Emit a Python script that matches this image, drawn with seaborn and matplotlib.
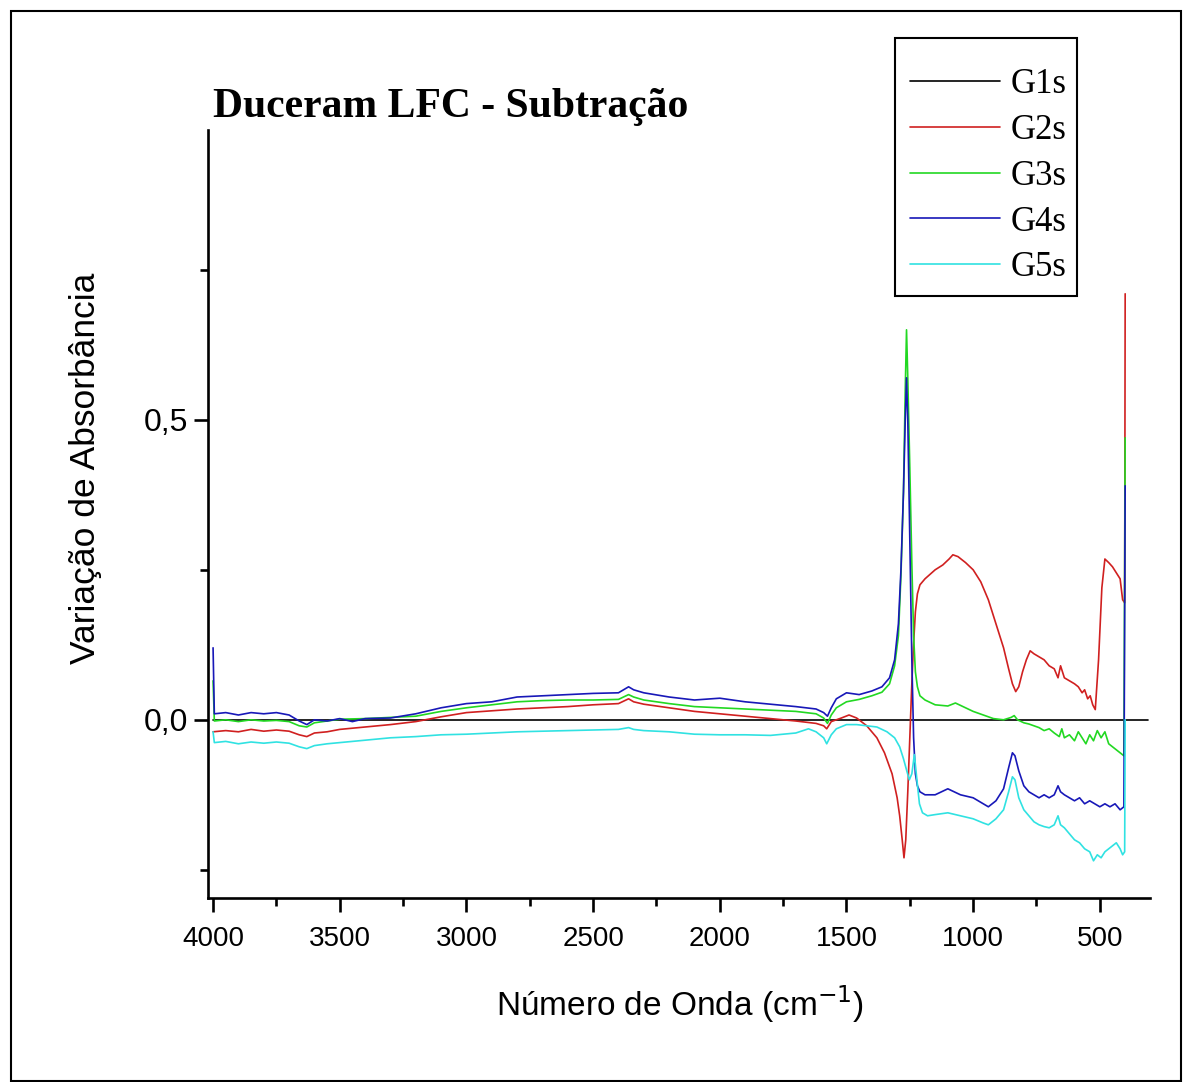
import numpy as np
import pandas as pd
import matplotlib
matplotlib.use("Agg")
import matplotlib.pyplot as plt
import matplotlib.ticker as mticker
from matplotlib.patches import Rectangle
import seaborn as sns

# wavenumbers (cm-1) and absorbance change
g1_w = [4000, 310]
g1_a = [0.0, 0.0]

g2_w = [4000, 3950, 3900, 3850, 3800, 3750, 3700, 3660, 3630, 3600, 3550, 3500, 3400, 3300,
        3200, 3100, 3000, 2900, 2800, 2700, 2600, 2500, 2400, 2360, 2340, 2300, 2200, 2100,
        2000, 1900, 1800, 1700, 1620, 1590, 1578, 1560, 1520, 1490, 1460, 1420, 1380, 1350,
        1320, 1300, 1290, 1280, 1273, 1266, 1258, 1250, 1243, 1236, 1228, 1220, 1210, 1190,
        1150, 1120, 1095, 1080, 1060, 1030, 1000, 970, 940, 910, 880, 860, 845, 832, 820,
        805, 790, 775, 760, 740, 720, 700, 680, 665, 655, 640, 620, 600, 585, 570, 560,
        548, 538, 528, 518, 505, 492, 480, 465, 450, 435, 420, 410, 402, 400]
g2_a = [-0.02, -0.018, -0.02, -0.016, -0.019, -0.017, -0.019, -0.025, -0.028, -0.022, -0.02,
        -0.016, -0.012, -0.008, -0.003, 0.005, 0.012, 0.015, 0.018, 0.02, 0.022, 0.025, 0.027,
        0.035, 0.03, 0.026, 0.02, 0.014, 0.01, 0.006, 0.002, -0.002, -0.006, -0.01, -0.015,
        -0.003, 0.003, 0.008, 0.003, -0.01, -0.03, -0.055, -0.09, -0.13, -0.16, -0.2, -0.23,
        -0.2, -0.12, -0.03, 0.05, 0.12, 0.18, 0.21, 0.225, 0.235, 0.25, 0.258, 0.268, 0.275,
        0.272, 0.262, 0.25, 0.23, 0.2, 0.16, 0.12, 0.085, 0.06, 0.047, 0.055, 0.08, 0.1,
        0.115, 0.11, 0.105, 0.1, 0.09, 0.085, 0.07, 0.09, 0.07, 0.065, 0.06, 0.055, 0.045,
        0.05, 0.035, 0.04, 0.025, 0.017, 0.1, 0.22, 0.268, 0.262, 0.255, 0.245, 0.235, 0.2,
        0.195, 0.71]

g3_w = [4000, 3995, 3950, 3900, 3850, 3800, 3750, 3700, 3660, 3630, 3600, 3550, 3500, 3400,
        3300, 3200, 3100, 3000, 2900, 2800, 2700, 2600, 2500, 2400, 2360, 2340, 2300, 2200,
        2100, 2000, 1900, 1800, 1700, 1620, 1590, 1575, 1560, 1540, 1500, 1450, 1400, 1360,
        1330, 1310, 1295, 1285, 1275, 1268, 1263, 1258, 1250, 1242, 1235, 1228, 1220, 1210,
        1190, 1150, 1100, 1070, 1050, 1000, 960, 920, 880, 850, 838, 825, 800, 780, 760, 740,
        720, 700, 680, 660, 650, 640, 620, 600, 585, 570, 555, 540, 525, 510, 495, 480, 465,
        450, 435, 420, 405, 400]
g3_a = [0.065, -0.002, 0.0, -0.003, 0.0, -0.002, -0.001, -0.003, -0.01, -0.012, -0.005,
        -0.002, 0.001, 0.002, 0.004, 0.006, 0.014, 0.02, 0.025, 0.03, 0.032, 0.033, 0.033,
        0.034, 0.042, 0.038, 0.033, 0.027, 0.022, 0.02, 0.018, 0.016, 0.014, 0.01, 0.003,
        -0.006, 0.008, 0.02, 0.03, 0.034, 0.04, 0.046, 0.06, 0.09, 0.14, 0.24, 0.38, 0.55,
        0.65, 0.57, 0.42, 0.26, 0.14, 0.08, 0.055, 0.04, 0.033, 0.025, 0.023, 0.028, 0.024,
        0.014, 0.008, 0.002, 0.0, 0.004, 0.007, 0.0, -0.005, -0.007, -0.01, -0.013, -0.018,
        -0.015, -0.022, -0.028, -0.015, -0.03, -0.025, -0.035, -0.02, -0.03, -0.04, -0.025,
        -0.035, -0.018, -0.03, -0.02, -0.04, -0.045, -0.05, -0.055, -0.06, 0.47]

g4_w = [4000, 3995, 3950, 3900, 3850, 3800, 3750, 3700, 3660, 3630, 3600, 3550, 3500, 3450,
        3400, 3300, 3200, 3100, 3000, 2900, 2800, 2700, 2600, 2500, 2400, 2360, 2340, 2300,
        2200, 2100, 2000, 1900, 1800, 1700, 1620, 1590, 1575, 1560, 1540, 1500, 1450, 1400,
        1360, 1330, 1310, 1295, 1285, 1275, 1268, 1263, 1258, 1250, 1242, 1235, 1228, 1220,
        1210, 1190, 1150, 1100, 1050, 1000, 960, 940, 910, 880, 860, 845, 835, 820, 800, 780,
        760, 740, 720, 700, 680, 665, 655, 640, 620, 600, 580, 560, 540, 520, 500, 480, 460,
        440, 420, 405, 400]
g4_a = [0.12, 0.01, 0.012, 0.008, 0.012, 0.01, 0.012, 0.008, -0.002, -0.008, 0.0, -0.002,
        0.002, -0.003, 0.002, 0.003, 0.01, 0.02, 0.027, 0.03, 0.038, 0.04, 0.042, 0.044, 0.045,
        0.055, 0.05, 0.045, 0.038, 0.033, 0.036, 0.03, 0.026, 0.022, 0.018, 0.012, 0.006, 0.02,
        0.035, 0.045, 0.042, 0.048, 0.055, 0.07, 0.1, 0.16, 0.25, 0.38, 0.5, 0.57, 0.5, 0.3,
        0.1, -0.03, -0.09, -0.11, -0.12, -0.125, -0.125, -0.115, -0.125, -0.13, -0.14, -0.145,
        -0.135, -0.115, -0.08, -0.055, -0.06, -0.085, -0.11, -0.12, -0.125, -0.13, -0.125,
        -0.13, -0.125, -0.11, -0.12, -0.125, -0.13, -0.135, -0.13, -0.14, -0.135, -0.14,
        -0.145, -0.14, -0.145, -0.14, -0.15, -0.145, 0.39]

g5_w = [4000, 3995, 3950, 3900, 3850, 3800, 3750, 3700, 3660, 3630, 3600, 3550, 3500, 3400,
        3300, 3200, 3100, 3000, 2900, 2800, 2700, 2600, 2500, 2400, 2360, 2340, 2300, 2200,
        2100, 2000, 1900, 1800, 1700, 1650, 1620, 1590, 1578, 1560, 1540, 1500, 1460, 1420,
        1380, 1340, 1310, 1290, 1275, 1262, 1252, 1242, 1232, 1222, 1212, 1200, 1180, 1150,
        1100, 1050, 1000, 960, 940, 910, 880, 860, 845, 835, 820, 800, 780, 760, 740, 720,
        700, 680, 665, 655, 640, 620, 600, 580, 560, 540, 525, 510, 495, 480, 465, 450, 435,
        420, 410, 402, 400]
g5_a = [-0.02, -0.038, -0.036, -0.04, -0.037, -0.039, -0.037, -0.039, -0.045, -0.048, -0.043,
        -0.04, -0.038, -0.034, -0.03, -0.028, -0.025, -0.024, -0.022, -0.02, -0.019, -0.018,
        -0.017, -0.016, -0.013, -0.016, -0.018, -0.02, -0.024, -0.025, -0.025, -0.026, -0.022,
        -0.015, -0.02, -0.03, -0.04, -0.025, -0.015, -0.008, -0.008, -0.01, -0.012, -0.02,
        -0.03, -0.045, -0.065, -0.085, -0.1, -0.09, -0.058, -0.1, -0.14, -0.155, -0.16,
        -0.158, -0.155, -0.16, -0.165, -0.172, -0.175, -0.165, -0.15, -0.12, -0.095, -0.1,
        -0.13, -0.15, -0.16, -0.17, -0.175, -0.178, -0.18, -0.175, -0.16, -0.175, -0.18,
        -0.19, -0.2, -0.205, -0.215, -0.22, -0.235, -0.225, -0.23, -0.22, -0.215, -0.21,
        -0.205, -0.215, -0.225, -0.22, 0.0]

series = ["G1s", "G2s", "G3s", "G4s", "G5s"]
colors = ["#000000", "#d02020", "#22d822", "#1818b8", "#30e2e2"]

frames = []
for name, w, a in zip(series, [g1_w, g2_w, g3_w, g4_w, g5_w], [g1_a, g2_a, g3_a, g4_a, g5_a]):
    frames.append(pd.DataFrame({"w": w, "a": a, "serie": name}))
df = pd.concat(frames, ignore_index=True)

sns.set_theme(style="ticks")
plt.rcParams["font.family"] = ["Liberation Sans", "DejaVu Sans"]
plt.rcParams["text.color"] = "black"
plt.rcParams["axes.labelcolor"] = "black"
plt.rcParams["xtick.color"] = "black"
plt.rcParams["ytick.color"] = "black"

fig = plt.figure(figsize=(11.92, 10.82), dpi=100)
ax = fig.add_axes([208 / 1192, 1 - 898 / 1082, (1150 - 208) / 1192, (898 - 130) / 1082])

sns.lineplot(data=df, x="w", y="a", hue="serie", palette=colors, hue_order=series,
             estimator=None, sort=False, linewidth=1.2, ax=ax)

ax.set_xlim(4020, 302)
ax.set_ylim(-0.297, 0.983)
ax.xaxis.set_major_locator(mticker.FixedLocator([4000, 3500, 3000, 2500, 2000, 1500, 1000, 500]))
ax.xaxis.set_minor_locator(mticker.FixedLocator([3750, 3250, 2750, 2250, 1750, 1250, 750]))
ax.yaxis.set_major_locator(mticker.FixedLocator([0.0, 0.5]))
ax.yaxis.set_minor_locator(mticker.FixedLocator([-0.25, 0.25, 0.75]))
ax.yaxis.set_major_formatter(mticker.FuncFormatter(lambda v, p: f"{v:.1f}".replace(".", ",")))

for side in ["top", "right"]:
    ax.spines[side].set_visible(False)
for side in ["left", "bottom"]:
    ax.spines[side].set_linewidth(1.9)
    ax.spines[side].set_color("black")
ax.tick_params(which="major", length=10, width=1.9)
ax.tick_params(which="minor", length=6, width=1.9)
ax.tick_params(axis="x", which="major", labelsize=20, pad=10)
ax.tick_params(axis="y", which="major", labelsize=23, pad=4)

ax.set_xlabel("Número de Onda (cm$^{-1}$)", fontsize=24)
ax.set_ylabel("Variação de Absorbância", fontsize=25.5)
ax.xaxis.set_label_coords((680 - 208) / 942, (898 - 983) / 768)
ax.yaxis.set_label_coords((102 - 208) / 942, (898 - 468) / 768)

fig.text(213 / 1192, 1 - 117 / 1082, "Duceram LFC - Subtração", fontsize=30,
         fontweight="bold", family="Liberation Serif", ha="left", va="baseline")

handles, labels = ax.get_legend_handles_labels()
leg = ax.legend(handles, labels, loc="upper left", bbox_to_anchor=(910 / 1192, 1 - 68 / 1082),
                bbox_transform=fig.transFigure, borderaxespad=0, frameon=False,
                handlelength=2.6, handletextpad=0.3, labelspacing=0.37, borderpad=0,
                prop={"family": "Liberation Serif", "size": 25})

# legend box and outer frame around the whole picture
fig.patches.append(Rectangle((895 / 1192, 1 - 296 / 1082), 182 / 1192, 258 / 1082,
                             transform=fig.transFigure, fill=False, edgecolor="black",
                             linewidth=1.5))
fig.patches.append(Rectangle((11 / 1192, 1 / 1082), 1170 / 1192, 1070 / 1082,
                             transform=fig.transFigure, fill=False, edgecolor="black",
                             linewidth=1.5))

fig.savefig("out.png", dpi=100)
